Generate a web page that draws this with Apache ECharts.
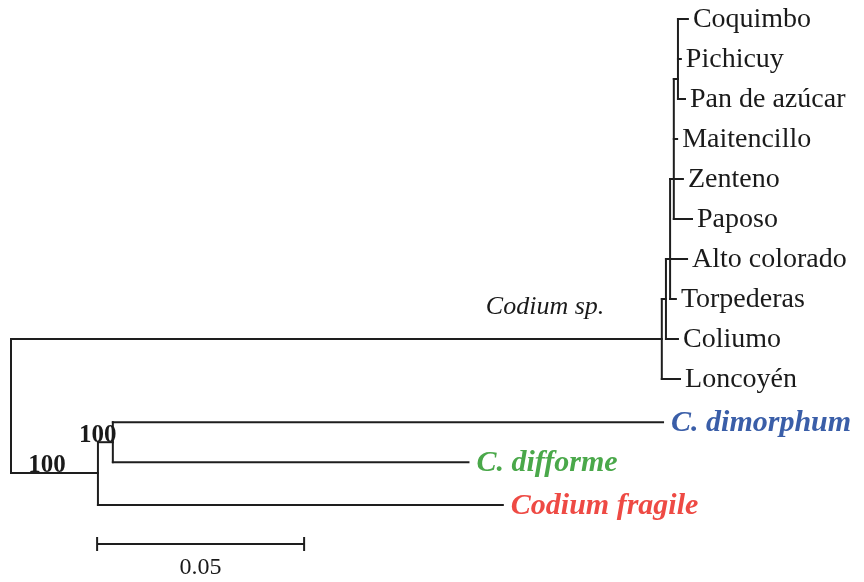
<!DOCTYPE html>
<html><head><meta charset="utf-8">
<script src="https://cdn.jsdelivr.net/npm/echarts@6/dist/echarts.min.js"></script>
<style>html,body{margin:0;padding:0;background:#fff}#c{width:864px;height:582px}</style>
</head><body><div id="c"></div><script>
// ---- tree data (branch lengths in substitutions/site, rows = vertical slot) ----
const tipNames = ['Coquimbo','Pichicuy','Pan de azúcar','Maitencillo','Zenteno','Paposo','Alto colorado','Torpederas','Coliumo','Loncoyén','C. dimorphum','C. difforme','Codium fragile'];
const tipParents = ['n4','n4','n4','n3','n3','n3','n2','n2','n1','sp','dd','dd','og'];
const tipDepths = [0.1635,0.1618,0.1628,0.1609,0.1623,0.1645,0.1633,0.1606,0.1611,0.1616,0.1575,0.1105,0.1188];
const tipRows = [0,1,2,3,4,5,6,7,8,9,10.08,11.08,12.15];
const tipColors = ['#1a1a1a','#1a1a1a','#1a1a1a','#1a1a1a','#1a1a1a','#1a1a1a','#1a1a1a','#1a1a1a','#1a1a1a','#1a1a1a','#3a5ea8','#4aa84a','#ee4a44'];

const nodeNames = ['root','sp','n1','n2','n3','n4','og','dd'];
const nodeParents = [null,'root','sp','n1','n2','n3','root','og'];
const nodeDepths = [0,0.1572,0.1582,0.1592,0.1601,0.1611,0.0210,0.0246];
const nodeRows = [9.7,8,7,6,4,1.5,11.35,10.58];

const cladeLabel = 'Codium sp.';
const cladeLabelPos = [0.1290, 7.2];

const bootstrapNodes = ['og','dd'];
const bootstrapValues = ['100','100'];

const scaleBarLength = 0.05;
const scaleBarStart = 0.0208;
const scaleBarRow = 13.125;
const scaleBarLabel = '0.05';

// ---- build segments ----
const allNames = nodeNames.concat(tipNames);
const allParents = nodeParents.concat(tipParents);
const allDepths = nodeDepths.concat(tipDepths);
const allRows = nodeRows.concat(tipRows);
const idx = {}; allNames.forEach((n,i)=>idx[n]=i);
const segs = [];
allNames.forEach((n,i)=>{
  const p = allParents[i]; if (p == null) return;
  const pi = idx[p];
  segs.push([allDepths[pi], allRows[i], allDepths[i], allRows[i]]);
});
nodeNames.forEach((n,i)=>{
  const kids = allRows.filter((r,j)=>allParents[j]===n);
  segs.push([nodeDepths[i], Math.min(...kids), nodeDepths[i], Math.max(...kids)]);
});
const scaleSegs = [[scaleBarStart, scaleBarRow, scaleBarStart + scaleBarLength, scaleBarRow]];

const serif = '"Liberation Serif","DejaVu Serif",serif';
const chart = echarts.init(document.getElementById('c'));

function lineItem(params, api){
  const a = api.coord([api.value(0), api.value(1)]);
  const b = api.coord([api.value(2), api.value(3)]);
  return {type:'line', shape:{x1:a[0],y1:a[1],x2:b[0],y2:b[1]},
    style:{stroke:'#1e1e1e', lineWidth:2, lineCap:'square'}};
}

const option = {
  animation:false,
  backgroundColor:'#ffffff',
  grid:{left:11, right:25, top:1, bottom:3},
  xAxis:{type:'value', min:0, max:0.2, show:false},
  yAxis:{type:'value', min:-0.45, max:14, inverse:true, show:false},
  series:[
    {type:'custom', coordinateSystem:'cartesian2d', data:segs, renderItem:lineItem, silent:true},
    {type:'custom', coordinateSystem:'cartesian2d', data:scaleSegs, silent:true,
      renderItem:function(params, api){
        const a = api.coord([api.value(0), api.value(1)]);
        const b = api.coord([api.value(2), api.value(3)]);
        const st = {stroke:'#1e1e1e', lineWidth:2};
        return {type:'group', children:[
          {type:'line', shape:{x1:a[0],y1:a[1],x2:b[0],y2:b[1]}, style:st},
          {type:'line', shape:{x1:a[0],y1:a[1]-7,x2:a[0],y2:a[1]+7}, style:st},
          {type:'line', shape:{x1:b[0],y1:b[1]-7,x2:b[0],y2:b[1]+7}, style:st},
          {type:'text', x:(a[0]+b[0])/2, y:a[1]+24, style:{text:scaleBarLabel, font:'24px '+serif, fill:'#1a1a1a', align:'center', verticalAlign:'middle'}}
        ]};
      }},
    {type:'custom', coordinateSystem:'cartesian2d', silent:true,
      data: tipNames.map((n,i)=>[tipDepths[i], tipRows[i]]),
      renderItem:function(params, api){
        const i = params.dataIndex;
        const p = api.coord([api.value(0), api.value(1)]);
        const colored = i >= 10;
        return {type:'text', x:p[0] + (colored ? 8 : 5), y:p[1] + 1,
          style:{text:tipNames[i], fill:tipColors[i], align:'left', verticalAlign:'middle',
            font:(colored ? 'italic bold 30px ' : '28px ') + serif}};
      }},
    {type:'custom', coordinateSystem:'cartesian2d', silent:true,
      data:[cladeLabelPos],
      renderItem:function(params, api){
        const p = api.coord([api.value(0), api.value(1)]);
        return {type:'text', x:p[0], y:p[1], style:{text:cladeLabel, fill:'#1a1a1a', align:'center', verticalAlign:'middle', font:'italic 26px '+serif}};
      }},
    {type:'custom', coordinateSystem:'cartesian2d', silent:true,
      data: bootstrapNodes.map(n=>[allDepths[idx[n]], allRows[idx[n]]]),
      renderItem:function(params, api){
        const i = params.dataIndex;
        const p = api.coord([api.value(0), api.value(1)]);
        const off = i === 0 ? [-51,-7] : [-15,-7];
        return {type:'text', x:p[0]+off[0], y:p[1]+off[1], style:{text:bootstrapValues[i], fill:'#1a1a1a', align:'center', verticalAlign:'middle', font:'bold 25px '+serif}};
      }}
  ]
};
chart.setOption(option);
</script></body></html>
